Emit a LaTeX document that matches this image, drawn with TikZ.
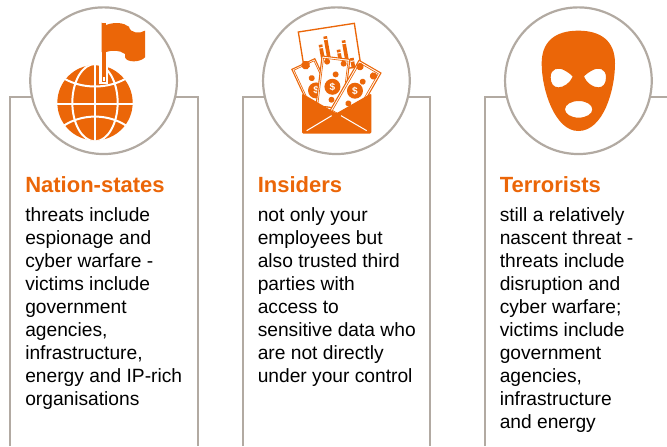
\documentclass[tikz,border=0pt]{standalone}
\usepackage{fontspec}
\setmainfont{Liberation Sans}
\definecolor{org}{HTML}{EB6608}
\definecolor{gry}{HTML}{B2AAA2}
\tikzset{
  x=0.75pt,y=-0.75pt,
  frame/.style={draw=gry,line width=1.5pt,line join=miter},
  ring/.style={draw=gry,fill=white,line width=1.65pt},
  ttl/.style={anchor=base west,inner sep=0pt,text=org,font=\fontsize{16.5pt}{18pt}\selectfont\bfseries},
  bodytxt/.style={anchor=north west,inner sep=0pt,align=left,font=\fontsize{14.4pt}{17.3pt}\selectfont},
  zoomed/.style={x=0.25pt,y=-0.25pt,shift={(#1*0.75pt,0)}},
  note/.style={draw=org,fill=white,line width=0.8pt},
  dollar/.style={circle,fill=org,text=white,inner sep=0pt,minimum size=12pt,font=\fontsize{7.5pt}{8pt}\selectfont\bfseries},
}
\begin{document}
\begin{tikzpicture}
\useasboundingbox (0,0) rectangle (667,446);
\begin{scope}
\clip (0,0) rectangle (667,446);
% frames
\coordinate (a1) at (9.7,446); \coordinate (a2) at (9.7,97.3); \coordinate (a3) at (197.7,97.3); \coordinate (a4) at (197.7,446);
\draw[frame] (a1) -- (a2) -- (a3) -- (a4);
\coordinate (b1) at (242.7,446); \coordinate (b2) at (242.7,97.3); \coordinate (b3) at (430.3,97.3); \coordinate (b4) at (430.3,446);
\draw[frame] (b1) -- (b2) -- (b3) -- (b4);
\coordinate (c1) at (484.5,446); \coordinate (c2) at (484.5,97.3); \coordinate (c3) at (667,97.3);
\draw[frame] (c1) -- (c2) -- (c3);
% circles
\node[ring,circle,minimum size=110pt,inner sep=0pt] (ca) at (103.6,80.7) {};
\node[ring,circle,minimum size=110pt,inner sep=0pt] (cb) at (336.4,80.7) {};
\node[ring,circle,minimum size=110pt,inner sep=0pt] (cc) at (578.4,80.7) {};

% globe + flag
\begin{scope}[zoomed=0]
  \fill[org] (285,308) circle (113);
  \begin{scope}
    \clip (285,308) circle (114);
    \draw[white,line width=1.5pt] (285,190) -- (285,425);
    \draw[white,line width=1.5pt] (165,313) -- (405,313);
    \draw[white,line width=1.5pt] (285,308) ellipse (68 and 116);
    \draw[white,line width=1.5pt] (180,228) .. controls (240,270) and (330,270) .. (390,228);
    \draw[white,line width=1.5pt] (180,385) .. controls (240,338) and (330,338) .. (390,385);
  \end{scope}
  \fill[white] (298,190) rectangle (325,252);
  \fill[org] (305,68) rectangle (318,246);
  \fill[white] (309,232) rectangle (314,242);
  \fill[org] (305,68) -- (318,75)
     .. controls (345,65) and (370,68) .. (387,80)
     .. controls (390,100) and (420,102) .. (435,92)
     -- (435,172) .. controls (420,188) and (380,188) .. (375,172)
     -- (375,162) .. controls (360,150) and (335,150) .. (318,156) -- (305,156) -- cycle;
\end{scope}

% envelope with notes
\begin{scope}[zoomed=235]
  \draw[org,line width=1pt,fill=white] (190,96) -- (358,70) -- (378,200) -- (210,220) -- cycle;
  \foreach \xa/\ya/\h in {251/135/55,265/110/80,305/150/40,320/122/70,345/175/30}{
    \fill[org,rotate around={10:(\xa,\ya)}] (\xa,\ya) rectangle ++(11,\h);
    \fill[white,rotate around={10:(\xa,\ya)}] (\xa,\ya+8) rectangle ++(11,3);
  }
  % left note
  \begin{scope}[shift={(205,192)},rotate=25]
    \draw[note] (-38,0) rectangle (38,170);
    \draw[org,line width=0.5pt] (-33,5) rectangle (33,165);
    \fill[org] (5,6) circle (13);
    \fill[org] (5,49) circle (9);
    \node[dollar] (dl) at (1,88) {\$};
  \end{scope}
  % middle note
  \begin{scope}[shift={(303,173)},rotate=-7]
    \draw[note] (-42,0) rectangle (42,150);
    \draw[org,line width=0.5pt] (-37,6) rectangle (37,150);
    \fill[org] (5,50) circle (9);
    \fill[org] (-25,15) circle (9);
    \fill[org] (25,15) circle (9);
    \node[dollar] (dm) at (0,88) {\$};
    \fill[org] (2,127) circle (9);
  \end{scope}
  % right note
  \begin{scope}[shift={(405,200)},rotate=-30]
    \draw[note] (-38,0) rectangle (38,175);
    \draw[org,line width=0.5pt] (-32,6) rectangle (32,170);
    \fill[org] (-26,15) circle (11);
    \fill[org] (23,19) circle (11);
    \fill[org] (3.5,50) circle (9);
    \node[dollar] (dr) at (-3,85) {\$};
    \fill[org] (-1,128) circle (9);
  \end{scope}
  % envelope
  \fill[org,rounded corners=1pt] (201,280) -- (304,340) -- (409,280) -- (409,401) -- (201,401) -- cycle;
  \draw[white,line width=0.75pt] (215,392) -- (290,347);
  \draw[white,line width=0.75pt] (395,392) -- (318,347);
\end{scope}

% mask
\begin{scope}[zoomed=475]
  \fill[org,even odd rule]
    (310,92) .. controls (380,92) and (420,125) .. (420,190)
    .. controls (420,270) and (385,393) .. (310,393)
    .. controls (240,393) and (200,270) .. (200,190)
    .. controls (200,125) and (240,92) .. (310,92) -- cycle
    (227,232) .. controls (227,205) and (250,200) .. (270,212)
    .. controls (282,219) and (290,225) .. (293,230)
    .. controls (285,250) and (265,262) .. (250,262)
    .. controls (235,262) and (227,250) .. (227,232) -- cycle
    (393,232) .. controls (393,205) and (370,200) .. (350,212)
    .. controls (338,219) and (330,225) .. (327,230)
    .. controls (335,250) and (355,262) .. (370,262)
    .. controls (385,262) and (393,250) .. (393,232) -- cycle
    (311,328) ellipse (41 and 25);
\end{scope}

% text
\node[ttl] (t1) at (25,192.3) {Nation-states};
\node[ttl] (t2) at (257.5,192.3) {Insiders};
\node[ttl] (t3) at (499.5,192.3) {Terrorists};
\node[bodytxt] (p1) at (25,207) {threats include\\espionage and\\cyber warfare -\\victims include\\government\\agencies,\\infrastructure,\\energy and IP-rich\\organisations};
\node[bodytxt] (p2) at (257.5,207) {not only your\\employees but\\also trusted third\\parties with\\access to\\sensitive data who\\are not directly\\under your control};
\node[bodytxt] (p3) at (499.5,207) {still a relatively\\nascent threat -\\threats include\\disruption and\\cyber warfare;\\victims include\\government\\agencies,\\infrastructure\\and energy};
\end{scope}
\end{tikzpicture}
\end{document}
